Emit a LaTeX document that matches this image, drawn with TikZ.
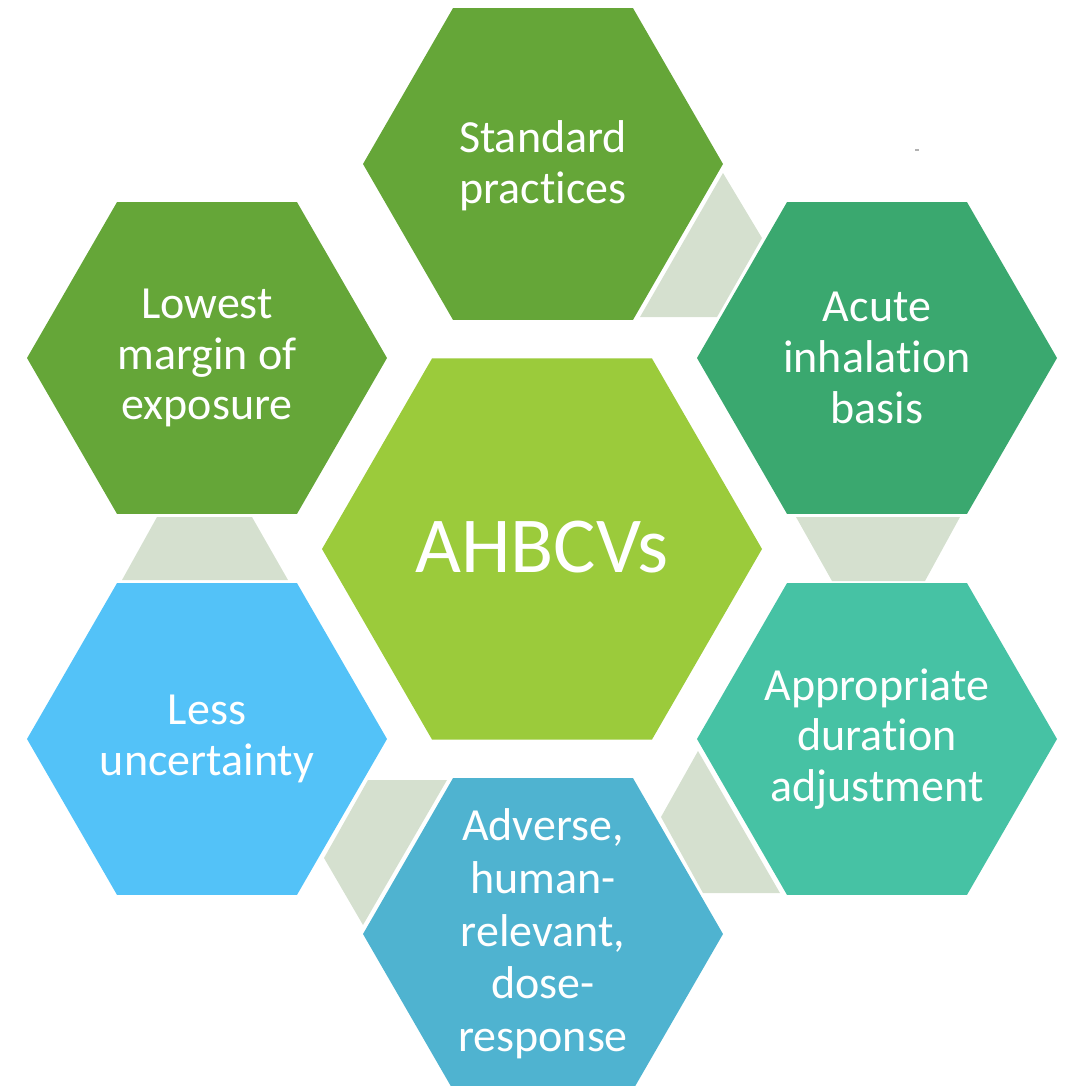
\documentclass[tikz,border=0pt]{standalone}
\usepackage{fontspec}
\setmainfont{Carlito}[RawFeature={-liga;-clig;-dlig;-calt}]

\definecolor{coregreen}{HTML}{9BCB3B}
\definecolor{leafgreen}{HTML}{65A638}
\definecolor{seagreen}{HTML}{3AA86F}
\definecolor{tealgreen}{HTML}{46C2A4}
\definecolor{steelblue}{HTML}{4FB3D0}
\definecolor{skyblue}{HTML}{53C2F8}
\definecolor{jointgray}{HTML}{D5E0CF}

\tikzset{
  hexlabel/.style={text=white, align=center, inner sep=0pt, font=\fontsize{34.5}{38}\selectfont},
  joint/.style={fill=jointgray},
}

\begin{document}
\begin{tikzpicture}[x=0.75pt, y=-0.75pt]

		\useasboundingbox (0,0) rectangle (1066,1086);

		\coordinate (core) at (542,549);
		\coordinate (std) at (543,164);
		\coordinate (acute) at (877,358);
		\coordinate (dur) at (877,739);
		\coordinate (adv) at (543,934);
		\coordinate (unc) at (207,739);
		\coordinate (moe) at (207,358);

		% joints between neighbouring hexagons
		\fill[joint] (723,173) -- (762,238) -- (717,317) -- (640,317) -- cycle;
		\fill[joint] (796,517) -- (960,517) -- (925,581) -- (832,581) -- cycle;
		\fill[joint] (698,751) -- (661,817) -- (703,893) -- (780,893) -- cycle;
		\fill[joint] (368,780) -- (447,780) -- (363,925) -- (324,858) -- cycle;
		\fill[joint] (157,517) -- (252,517) -- (288,580) -- (122,580) -- cycle;

		\fill[coregreen] (core) +(0:220) -- +(60:220) -- +(120:220) -- +(180:220) -- +(240:220) -- +(300:220) -- cycle;
		\foreach \c/\col in {std/leafgreen, acute/seagreen, dur/tealgreen, adv/steelblue, unc/skyblue, moe/leafgreen}
			\fill[\col] (\c) +(0:180) -- +(60:180) -- +(120:180) -- +(180:180) -- +(240:180) -- +(300:180) -- cycle;

		\node[hexlabel, font=\fontsize{59.5}{64}\selectfont] (coretext) at (542,547) {AHBCVs};
		\node[hexlabel] (stdtext) at (543,166) {Standard\\practices};
		\node[hexlabel] (acutetext) at (acute) {Acute\\inhalation\\basis};
		\node[hexlabel] (durtext) at (dur) {Appropriate\\duration\\adjustment};
		\node[hexlabel, font=\fontsize{34.5}{39.5}\selectfont] (advtext) at (adv) {Adverse,\\human-\\relevant,\\dose-\\response};
		\node[hexlabel] (unctext) at (unc) {Less\\uncertainty};
		\node[hexlabel] (moetext) at (moe) {Lowest\\margin of\\exposure};

		\draw[gray!60, line width=0.8pt] (915,150) -- (919,150);

	\end{tikzpicture}
\end{document}
